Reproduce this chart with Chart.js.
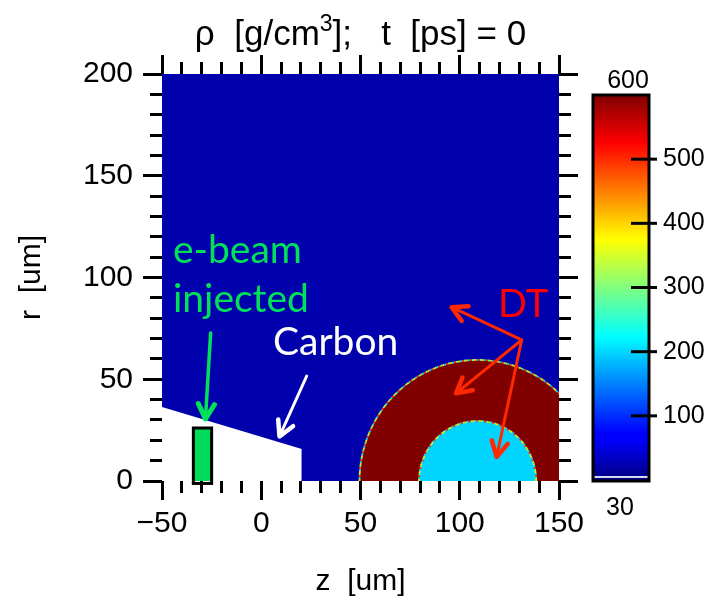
<!DOCTYPE html>
<html>
<head>
<meta charset="utf-8">
<title>rho map</title>
<script src="https://cdn.jsdelivr.net/npm/chart.js@4.4.1/dist/chart.umd.min.js"></script>
<style>
  html, body { margin: 0; padding: 0; background: #fff; }
  canvas { display: block; }
</style>
</head>
<body>
<canvas id="map" width="709" height="605"></canvas>
<script>
// axis ranges and ticks, in um
const zRange = [-50, 150];
const rRange = [0, 200];
const zMajor = [-50, 0, 50, 100, 150];
const zMajorLabels = ['\u221250', '0', '50', '100', '150'];
const rMajor = [0, 50, 100, 150, 200];
const rMajorLabels = ['0', '50', '100', '150', '200'];

// carbon fills the whole box, vacuum cut-out at the lower left
const carbonZ = [-50, 150];
const carbonR = [200, 200];
const vacuumZ = [-50, 20.4, 20.4];
const vacuumR = [36.4, 15.7, 0];

// injection electrode (sides + top, then the bottom edge)
const beamZ = [-34.2, -34.2, -25, -25];
const beamR = [-1.2, 26, 26, -1.2];
const beamBaseZ = [-34.2, -25];
const beamBaseR = [-1.2, -1.2];

// DT shell and DT gas (half discs on the axis)
const shellCenterZ = 109;
const shellOuterR = 59.5;
const gasOuterR = 29.5;

// colour bar
const cbMax = 600;
const cbMinLabel = '30';
const cbTicks = [100, 200, 300, 400, 500];

const pts = (zs, rs) => zs.map((z, i) => ({ x: z, y: rs[i] }));

const BLUE = 'rgb(0,0,172)';
const SHELL = 'rgb(128,0,0)';
const GAS = 'rgb(0,212,255)';
const BEAM = 'rgb(0,220,90)';
const AXIS_FONT = '"Liberation Sans", Arial, sans-serif';
const NOTE_FONT = 'Lato, "Open Sans", sans-serif';
const CARBON_INDEX = 3;

// dash trick: minor ticks are 12px, major 19px
function minorDash(outerFirst) {
  return ctx => {
    const v = ctx.tick ? ctx.tick.value : 0;
    if (v % 50 === 0) return [];
    return outerFirst ? [0, 7, 12, 40] : [12, 40];
  };
}

function gridOpts(outerFirst) {
  return {
    display: true,
    drawOnChartArea: false,
    drawTicks: true,
    tickLength: 19,
    tickWidth: 3,
    tickColor: '#000',
    tickBorderDash: minorDash(outerFirst)
  };
}

// shells drawn right after the carbon background
const shellPlugin = {
  id: 'shells',
  afterDatasetDraw(chart, args) {
    if (args.index !== CARBON_INDEX) return;
    const { ctx, chartArea, scales } = chart;
    const x = scales.x, y = scales.y;
    const cx = x.getPixelForValue(shellCenterZ);
    const cy = y.getPixelForValue(0);
    const kx = Math.abs(x.getPixelForValue(1) - x.getPixelForValue(0));
    const ky = Math.abs(y.getPixelForValue(1) - y.getPixelForValue(0));
    ctx.save();
    ctx.beginPath();
    ctx.rect(chartArea.left, chartArea.top, chartArea.width, chartArea.height);
    ctx.clip();
    const disc = (rad, color) => {
      ctx.beginPath();
      ctx.ellipse(cx, cy, rad * kx, rad * ky, 0, Math.PI, 2 * Math.PI);
      ctx.closePath();
      ctx.fillStyle = color;
      ctx.fill();
    };
    const speckle = rad => {
      const cols = ['#ffe600', '#00e0ff', '#ff3000', '#8cff60'];
      ctx.lineWidth = 1.8;
      cols.forEach((c, i) => {
        ctx.beginPath();
        ctx.ellipse(cx, cy, rad * kx, rad * ky, 0, Math.PI, 2 * Math.PI);
        ctx.setLineDash([2, 6]);
        ctx.lineDashOffset = -i * 2;
        ctx.strokeStyle = c;
        ctx.stroke();
      });
      ctx.setLineDash([]);
    };
    disc(shellOuterR, SHELL);
    speckle(shellOuterR);
    disc(gasOuterR, GAS);
    speckle(gasOuterR);
    ctx.restore();
  }
};

function arrow(ctx, x0, y0, x1, y1, color, w, head) {
  const a = Math.atan2(y1 - y0, x1 - x0);
  ctx.strokeStyle = color;
  ctx.lineCap = 'round';
  ctx.lineJoin = 'round';
  ctx.lineWidth = w;
  ctx.beginPath();
  ctx.moveTo(x0, y0);
  ctx.lineTo(x1, y1);
  ctx.stroke();
  ctx.lineWidth = w + 1.5;
  ctx.beginPath();
  ctx.moveTo(x1 - head * Math.cos(a - 0.5), y1 - head * Math.sin(a - 0.5));
  ctx.lineTo(x1, y1);
  ctx.lineTo(x1 - head * Math.cos(a + 0.5), y1 - head * Math.sin(a + 0.5));
  ctx.stroke();
}

// labels and arrows, placed in z/r units
const notesPlugin = {
  id: 'notes',
  afterDatasetsDraw(chart) {
    const { ctx, scales } = chart;
    const px = z => scales.x.getPixelForValue(z);
    const py = r => scales.y.getPixelForValue(r);
    ctx.save();
    ctx.textAlign = 'left';
    ctx.textBaseline = 'alphabetic';
    ctx.font = '39px ' + NOTE_FONT;
    ctx.fillStyle = 'rgb(0,225,90)';
    ctx.fillText('e-beam', px(-44.5), py(107.1));
    ctx.fillText('injected', px(-44.5), py(83.0));
    ctx.fillStyle = '#fff';
    ctx.fillText('Carbon', px(5.9), py(61.9));
    ctx.font = '38px ' + NOTE_FONT;
    ctx.fillStyle = 'rgb(255,0,0)';
    ctx.fillText('DT', px(119.3), py(80.6));

    arrow(ctx, px(-25.5), py(72.7), px(-28.1), py(30.5), 'rgb(0,225,90)', 3.5, 17);
    arrow(ctx, px(22.9), py(51.6), px(9.2), py(21.9), '#fff', 3, 17);
    const red = 'rgb(255,40,0)';
    arrow(ctx, px(131.2), py(69.3), px(95.9), py(85.4), red, 3, 17);
    arrow(ctx, px(131.2), py(69.3), px(98.1), py(43.1), red, 3, 17);
    arrow(ctx, px(131.2), py(69.3), px(118.6), py(11.9), red, 3, 17);
    ctx.restore();
  }
};

// title with a raised exponent, and the colour bar on the right
const framePlugin = {
  id: 'frame',
  afterDraw(chart) {
    const { ctx, chartArea } = chart;
    ctx.save();
    const big = '35px ' + AXIS_FONT, small = '23px ' + AXIS_FONT;
    const parts = [['\u03c1  [g/cm', big, 0], ['3', small, -14], ['];   t  [ps] = 0', big, 0]];
    let total = 0;
    parts.forEach(p => { ctx.font = p[1]; total += ctx.measureText(p[0]).width; });
    let x = (chartArea.left + chartArea.right) / 2 - total / 2;
    ctx.fillStyle = '#000';
    ctx.textBaseline = 'alphabetic';
    ctx.textAlign = 'left';
    parts.forEach(p => {
      ctx.font = p[1];
      ctx.fillText(p[0], x, 45 + p[2]);
      x += ctx.measureText(p[0]).width;
    });

    // colour bar box
    const L = 593, R = 649, T = 95, B = 481;
    const y0 = 480, k = (y0 - T) / cbMax;
    const g = ctx.createLinearGradient(0, B, 0, T);
    const jet = [[0, '#000080'], [0.11, '#0000ff'], [0.125, '#0000ff'], [0.375, '#00ffff'],
                 [0.625, '#ffff00'], [0.875, '#ff0000'], [1, '#800000']];
    jet.forEach(s => g.addColorStop(s[0], s[1]));
    ctx.fillStyle = g;
    ctx.fillRect(L, T, R - L, B - T);
    ctx.fillStyle = 'rgba(235,235,255,0.9)';
    ctx.fillRect(L, B - 5, R - L, 2);
    ctx.lineWidth = 3;
    ctx.strokeStyle = '#000';
    ctx.strokeRect(L, T, R - L, B - T);

    ctx.font = '25px ' + AXIS_FONT;
    ctx.fillStyle = '#000';
    ctx.textBaseline = 'middle';
    ctx.textAlign = 'left';
    cbTicks.forEach(v => {
      const ty = y0 - v * k;
      ctx.beginPath();
      ctx.moveTo(631, ty);
      ctx.lineTo(657, ty);
      ctx.stroke();
      ctx.fillText(String(v), 663, ty);
    });
    ctx.textAlign = 'center';
    ctx.fillText(String(cbMax), 628, 81);
    ctx.fillText(cbMinLabel, 620, 508);
    ctx.restore();
  }
};

const labelFrom = (vals, labels) => v => {
  const i = vals.indexOf(v);
  return i < 0 ? '' : labels[i];
};

// datasets with a lower index are painted on top
new Chart(document.getElementById('map'), {
  type: 'scatter',
  data: {
    datasets: [
      { data: pts(beamBaseZ, beamBaseR), showLine: true, fill: false, clip: false,
        borderColor: '#000', borderWidth: 3, pointRadius: 0, borderCapStyle: 'square' },
      { data: pts(beamZ, beamR), showLine: true, fill: 'origin', clip: false,
        backgroundColor: BEAM, borderColor: '#000', borderWidth: 3,
        pointRadius: 0, borderJoinStyle: 'miter' },
      { data: pts(vacuumZ, vacuumR), showLine: true, fill: 'origin',
        backgroundColor: '#fff', borderWidth: 0, pointRadius: 0 },
      { data: pts(carbonZ, carbonR), showLine: true, fill: 'origin',
        backgroundColor: BLUE, borderWidth: 0, pointRadius: 0 }
    ]
  },
  options: {
    responsive: false,
    animation: false,
    events: [],
    layout: { padding: 0 },
    plugins: { legend: { display: false }, tooltip: { enabled: false } },
    scales: {
      x: {
        type: 'linear', position: 'bottom', min: zRange[0], max: zRange[1],
        afterFit: s => { s.height = 124; },
        ticks: { stepSize: 10, autoSkip: false, maxRotation: 0, padding: 6,
                 color: '#000', font: { family: AXIS_FONT, size: 30 },
                 callback: labelFrom(zMajor, zMajorLabels) },
        grid: gridOpts(false),
        border: { display: false },
        title: { display: true, text: 'z  [um]', color: '#000',
                 font: { family: AXIS_FONT, size: 30 }, padding: { top: 0, bottom: 5 } }
      },
      x2: {
        type: 'linear', position: 'top', min: zRange[0], max: zRange[1],
        afterFit: s => { s.height = 74; },
        ticks: { stepSize: 10, autoSkip: false, display: false },
        grid: gridOpts(true),
        border: { display: false }
      },
      y: {
        type: 'linear', position: 'left', min: rRange[0], max: rRange[1],
        afterFit: s => { s.width = 162; },
        ticks: { stepSize: 10, autoSkip: false, padding: 10,
                 color: '#000', font: { family: AXIS_FONT, size: 30 },
                 callback: labelFrom(rMajor, rMajorLabels) },
        grid: gridOpts(true),
        border: { display: false },
        title: { display: true, text: 'r  [um]', color: '#000',
                 font: { family: AXIS_FONT, size: 30 }, padding: { top: 14, bottom: 0 } }
      },
      y2: {
        type: 'linear', position: 'right', min: rRange[0], max: rRange[1],
        afterFit: s => { s.width = 150; },
        ticks: { stepSize: 10, autoSkip: false, display: false },
        grid: gridOpts(false),
        border: { display: false }
      }
    }
  },
  plugins: [shellPlugin, notesPlugin, framePlugin]
});
</script>
</body>
</html>
